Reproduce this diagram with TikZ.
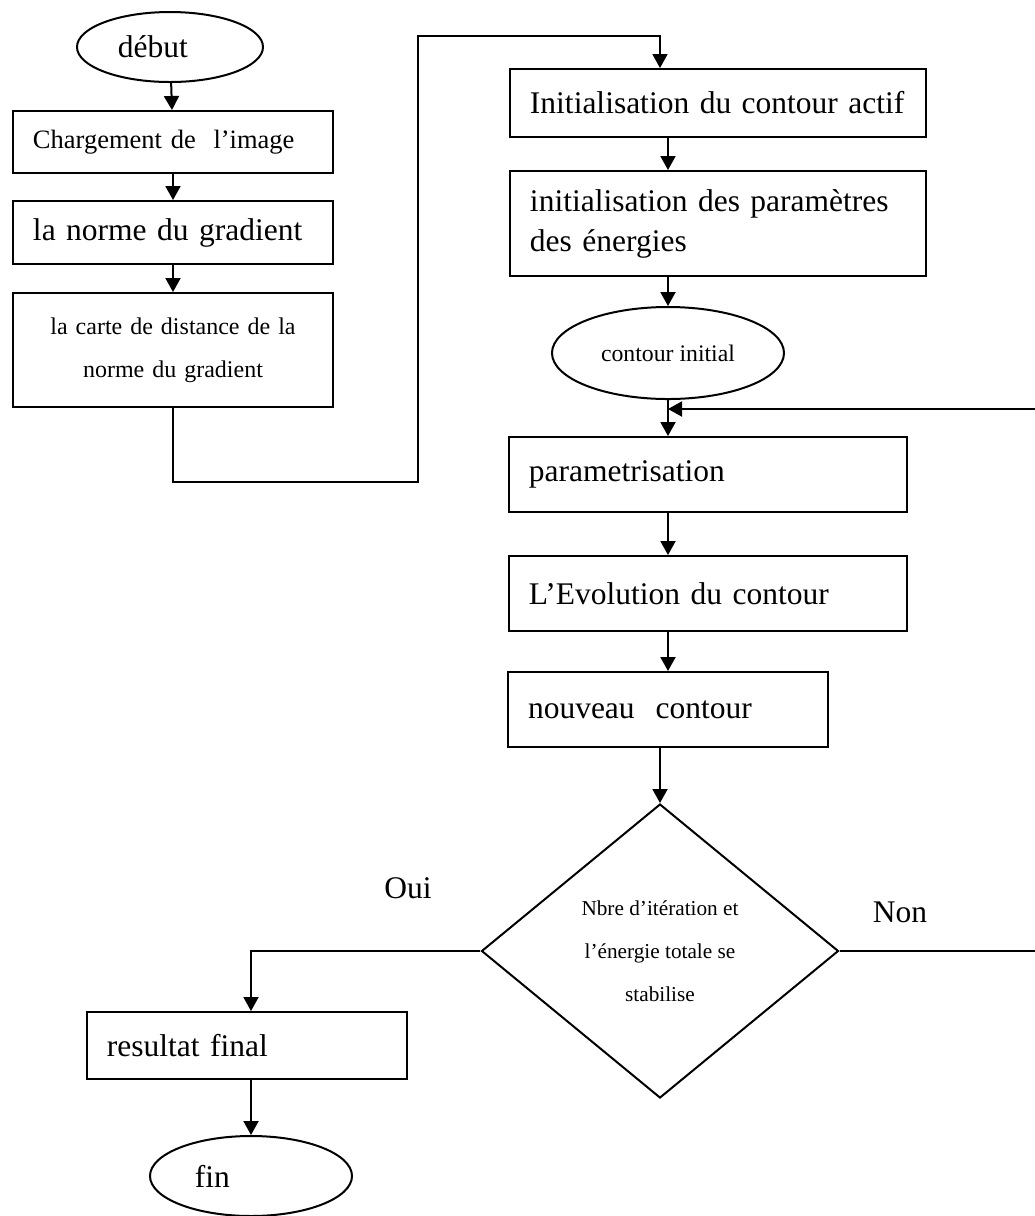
\documentclass[tikz,border=0pt]{standalone}
\usepackage{fontspec}
\setmainfont{Liberation Serif}
\usetikzlibrary{arrows.meta,shapes.geometric,positioning}
\def\fbig{\fontsize{12.6pt}{16pt}\selectfont}
\def\fmid{\fontsize{10.6pt}{14pt}\selectfont}
\def\fsmall{\fontsize{9.6pt}{17.2pt}\selectfont}
\def\ftiny{\fontsize{8.5pt}{17.2pt}\selectfont}

\begin{document}
\begin{tikzpicture}
    [x=0.4pt,y=-0.4pt,
     box/.style={draw,thick,rectangle,inner xsep=8pt,inner ysep=0pt,align=left,font=\fbig},
     oval/.style={draw,thick,ellipse,inner sep=0pt,font=\fbig},
     arr/.style={thick,-{Triangle[length=5.6pt,width=6pt]}}]
    \useasboundingbox (0,0) rectangle (1035,1216);

    % left column
    \node[oval,minimum width=74.4pt,minimum height=28pt,text width=41.6pt,align=left] (debut) at (170,47) {début};
    \node[box,font=\fmid,minimum width=128pt,minimum height=24.8pt,text width=112pt] (charg) at (173,142) {Chargement de~ l’image};
    \node[box,minimum width=128pt,minimum height=25.2pt,text width=112pt] (norme) at (173,232.5) {la norme du gradient};
    \node[box,font=\fsmall,minimum width=128pt,minimum height=45.6pt,text width=112pt,align=center] (carte) at (173,350)
        {la carte de distance de la\\norme du gradient};

    \coordinate (bend1) at (418,482);
    \coordinate (bend2) at (418,36);
    \coordinate (bend3) at (660,36);

    % right column
    \node[box,minimum width=166.4pt,minimum height=27.2pt,text width=150.4pt] (init) at (718,103) {Initialisation du contour actif};
    \node[box,minimum width=166.4pt,minimum height=42pt,text width=150.4pt] (params) at (718,223.5)
        {initialisation des paramètres\\des énergies};
    \node[oval,font=\fontsize{9.5pt}{12pt}\selectfont,minimum width=92.8pt,minimum height=36.8pt] (cinit) at (668,353) {contour initial};
    \node[box,minimum width=159.2pt,minimum height=30pt,text width=143.2pt] (param) at (708,474.5) {parametrisation};
    \node[box,minimum width=159.2pt,minimum height=30pt,text width=143.2pt] (evol) at (708,593.5) {L’Evolution du contour};
    \node[box,minimum width=128pt,minimum height=30pt,text width=112pt] (nouv) at (668,709.5) {nouveau~ contour};

    % test
    \node[draw,thick,diamond,inner sep=0pt,minimum width=142.8pt,minimum height=117.6pt,align=center,font=\ftiny] (test) at (660,951)
        {Nbre d’itération et\\l’énergie totale se\\stabilise};
    \node[font=\fbig] (oui) at (408,888) {Oui};
    \node[font=\fbig] (non) at (900,912) {Non};

    \node[box,minimum width=128pt,minimum height=26.8pt,text width=112pt] (res) at (247,1045.5) {resultat final};
    \node[oval,minimum width=80.8pt,minimum height=32pt,text width=44.8pt,align=left] (fin) at (251,1176) {fin};

    \coordinate (rb) at (1040,951);
    \coordinate (rt) at (1040,409);

    \draw[arr] (debut) -- (charg);
    \draw[arr] (charg) -- (norme);
    \draw[arr] (norme) -- (carte);
    \draw[arr] (carte.south) |- (bend1) -- (bend2) -- (bend3) -- (bend3 |- init.north);
    \draw[arr] (cinit |- init.south) -- (cinit |- params.north);
    \draw[arr] (cinit |- params.south) -- (cinit.north);
    \draw[arr] (cinit.south) -- (cinit |- param.north);
    \draw[arr] (cinit |- param.south) -- (cinit |- evol.north);
    \draw[arr] (cinit |- evol.south) -- (nouv.north);
    \draw[arr] (test |- nouv.south) -- (test.north);
    \draw[arr] (test.west) -| (fin |- res.north);
    \draw[arr] (fin |- res.south) -- (fin.north);
    \draw[arr] (test.east) -- (rb) -- (rt) -- (rt -| cinit.south); % loop back
\end{tikzpicture}
\end{document}
